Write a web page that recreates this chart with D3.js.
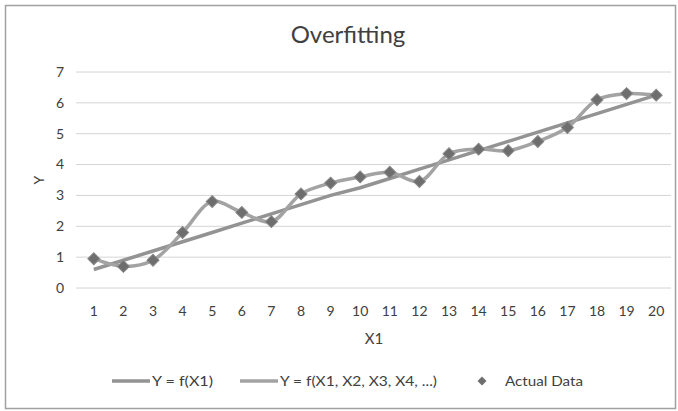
<!DOCTYPE html>
<html>
<head>
<meta charset="utf-8">
<script src="https://cdn.jsdelivr.net/npm/d3@7"></script>
<style>
  body { margin: 0; background: #fff; }
  text { font-family: Lato, "Open Sans", sans-serif; }
</style>
</head>
<body>
<div id="chart"></div>
<script>
var xCats = d3.range(1, 21);
var actualData = [0.95, 0.7, 0.9, 1.8, 2.8, 2.45, 2.15, 3.05, 3.4, 3.6, 3.75, 3.45, 4.35, 4.5, 4.45, 4.75, 5.2, 6.1, 6.3, 6.25];
var linearFit = [0.6, 0.9, 1.2, 1.5, 1.8, 2.1, 2.4, 2.7, 3.0, 3.25, 3.55, 3.85, 4.15, 4.45, 4.75, 5.05, 5.35, 5.65, 5.95, 6.25];
var yTicks = [0, 1, 2, 3, 4, 5, 6, 7];
var legendLabels = ["Y = f(X1)", "Y = f(X1, X2, X3, X4, ...)", "Actual Data"];

var W = 678, H = 411;
var textColor = "#404040";
var svg = d3.select("#chart").append("svg")
    .attr("width", W)
    .attr("height", H);

svg.append("rect")
    .attr("x", 5.5).attr("y", 5.5)
    .attr("width", W - 8).attr("height", H - 8)
    .attr("fill", "#fff")
    .attr("stroke", "#a0a0a0")
    .attr("stroke-width", 1.5);

var x = d3.scaleBand().domain(xCats).range([79, 671]);
var y = d3.scaleLinear().domain([0, 7]).range([288, 72]);
var cx = function(d) { return x(d) + x.bandwidth() / 2; };

// gridlines
svg.append("g").selectAll("line")
    .data(yTicks)
    .enter().append("line")
    .attr("x1", 76).attr("x2", 671)
    .attr("y1", function(d) { return y(d); })
    .attr("y2", function(d) { return y(d); })
    .attr("stroke", "#d4d4d4")
    .attr("stroke-width", 1);

// y tick labels
svg.append("g").selectAll("text")
    .data(yTicks)
    .enter().append("text")
    .attr("x", 64)
    .attr("y", function(d) { return y(d); })
    .attr("dy", "0.35em")
    .attr("text-anchor", "end")
    .style("font-size", "14px")
    .style("fill", textColor)
    .text(function(d) { return d; });

// x tick labels
svg.append("g").selectAll("text")
    .data(xCats)
    .enter().append("text")
    .attr("x", cx)
    .attr("y", 316)
    .attr("text-anchor", "middle")
    .style("font-size", "14px")
    .style("fill", textColor)
    .text(function(d) { return d; });

// title & axis labels
svg.append("text")
    .attr("x", 348).attr("y", 43)
    .attr("text-anchor", "middle")
    .style("font-size", "24px")
    .style("fill", textColor)
    .text("Overfitting");

svg.append("text")
    .attr("transform", "translate(44,180) rotate(-90)")
    .attr("text-anchor", "middle")
    .style("font-size", "14px")
    .style("fill", textColor)
    .text("Y");

svg.append("text")
    .attr("x", 374).attr("y", 344)
    .attr("text-anchor", "middle")
    .style("font-size", "15px")
    .style("fill", textColor)
    .text("X1");

// series
var linear = d3.line()
    .x(function(d, i) { return cx(xCats[i]); })
    .y(function(d) { return y(d); });

var smooth = d3.line()
    .x(function(d, i) { return cx(xCats[i]); })
    .y(function(d) { return y(d); })
    .curve(d3.curveCatmullRom.alpha(0.5));

svg.append("path")
    .datum(linearFit)
    .attr("d", linear)
    .attr("fill", "none")
    .attr("stroke", "#939393")
    .attr("stroke-width", 3.5);

svg.append("path")
    .datum(actualData)
    .attr("d", smooth)
    .attr("fill", "none")
    .attr("stroke", "#a3a3a3")
    .attr("stroke-width", 3.5);

var diamond = d3.symbol().type(d3.symbolSquare).size(72);

svg.append("g").selectAll("path")
    .data(actualData)
    .enter().append("path")
    .attr("d", diamond)
    .attr("transform", function(d, i) { return "translate(" + cx(xCats[i]) + "," + y(d) + ") rotate(45)"; })
    .attr("fill", "#6e6e6e")
    .attr("stroke", "#888")
    .attr("stroke-width", 1);

// legend
var legend = svg.append("g").attr("transform", "translate(0,381)");
var swatchX = [112, 240];
var textX = [152, 280];
var textLen = [61, 157];
[0, 1].forEach(function(i) {
    legend.append("line")
        .attr("x1", swatchX[i]).attr("x2", swatchX[i] + 38)
        .attr("y1", 0).attr("y2", 0)
        .attr("stroke", i === 0 ? "#939393" : "#a3a3a3")
        .attr("stroke-width", 3.5);
    legend.append("text")
        .attr("x", textX[i]).attr("y", 0)
        .attr("dy", "0.35em")
        .attr("textLength", textLen[i])
        .attr("lengthAdjust", "spacingAndGlyphs")
        .style("font-size", "14px")
        .style("fill", textColor)
        .text(legendLabels[i]);
});
legend.append("path")
    .attr("d", d3.symbol().type(d3.symbolSquare).size(40))
    .attr("transform", "translate(482,0) rotate(45)")
    .attr("fill", "#6e6e6e");
legend.append("text")
    .attr("x", 505).attr("y", 0)
    .attr("dy", "0.35em")
    .attr("textLength", 78)
    .attr("lengthAdjust", "spacingAndGlyphs")
    .style("font-size", "14px")
    .style("fill", textColor)
    .text(legendLabels[2]);
</script>
</body>
</html>
